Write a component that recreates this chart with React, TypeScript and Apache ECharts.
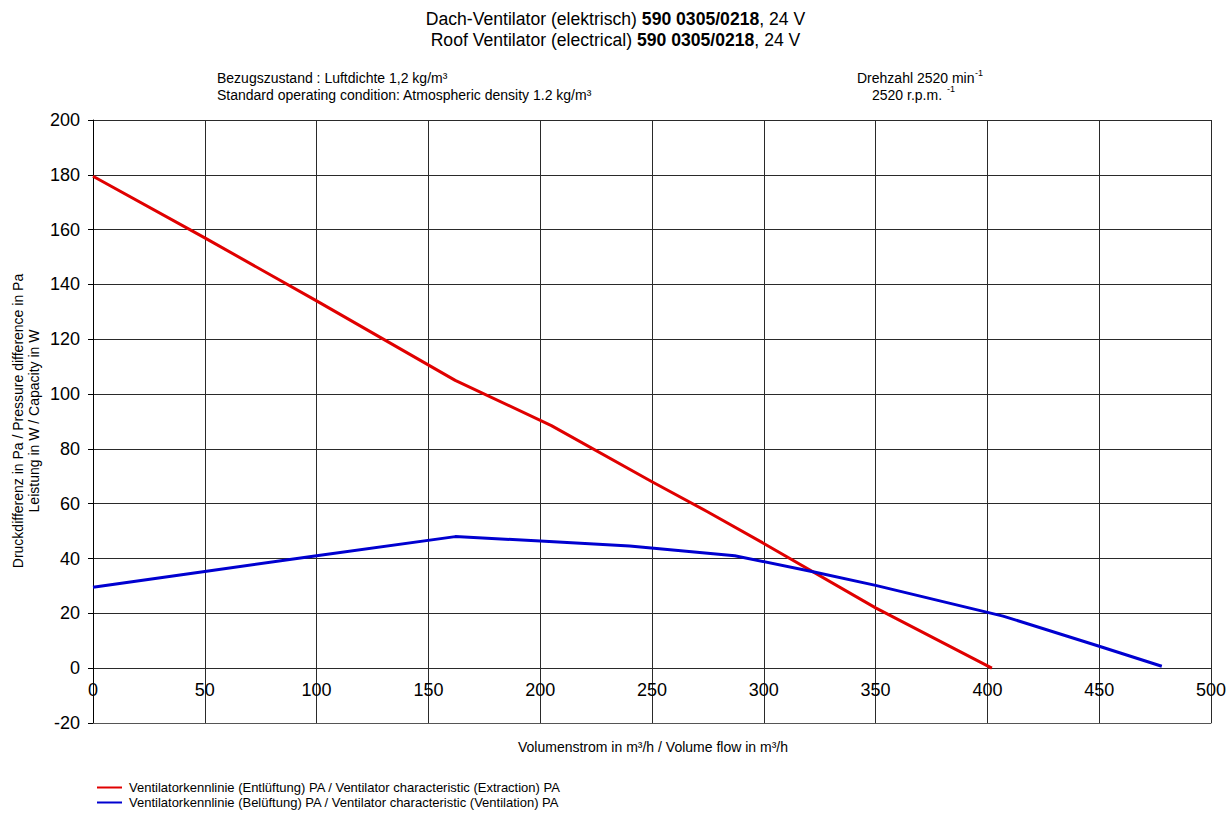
import React, { useEffect, useRef } from "react";
import * as echarts from "echarts";

const extractionX = [0, 50, 100, 162, 205, 250, 275, 300, 350, 402];
const extractionY = [179.5, 157, 134, 105, 88.5, 68, 57, 45.5, 22, 0];
const ventilationX = [0, 50, 100, 162, 200, 240, 287, 322, 350, 407, 450, 478];
const ventilationY = [29.5, 35.3, 41, 48, 46.4, 44.6, 41, 35.2, 30.2, 19, 8, 0.7];

const seriesNames = [
  "Ventilatorkennlinie (Entlüftung) PA / Ventilator characteristic (Extraction) PA",
  "Ventilatorkennlinie (Belüftung) PA / Ventilator characteristic (Ventilation) PA",
];

const FONT = "Liberation Sans, Arial, sans-serif";

export default function App() {
  const ref = useRef<HTMLDivElement>(null);
  useEffect(() => {
    const chart = echarts.init(ref.current!, undefined, { renderer: "svg" });
    const zip = (xs: number[], ys: number[]) => xs.map((x, i) => [x, ys[i]]);
    chart.setOption({
      animation: false,
      backgroundColor: "#ffffff",
      textStyle: { fontFamily: FONT },
      title: {
        left: "center",
        top: 8,
        padding: 0,
        text:
          "{n|Dach-Ventilator (elektrisch) }{b|590 0305/0218}{n|, 24 V}\n{n|Roof Ventilator (electrical) }{b|590 0305/0218}{n|, 24 V}",
        textStyle: {
          fontFamily: FONT,
          fontWeight: "normal",
          rich: {
            n: { fontSize: 17.6, fontFamily: FONT, color: "#000", fontWeight: "normal", lineHeight: 21 },
            b: { fontSize: 17.6, fontFamily: FONT, color: "#000", fontWeight: "bold", lineHeight: 21 },
          },
        },
      },
      grid: { left: 93, right: 20, top: 120, bottom: 93, containLabel: false },
      xAxis: {
        type: "value",
        min: 0,
        max: 500,
        interval: 50,
        axisLine: { show: true, onZero: false, lineStyle: { color: "#555", width: 1 } },
        axisTick: { show: false },
        axisLabel: { color: "#000", fontSize: 18, fontFamily: FONT, margin: -42 },
        splitLine: { show: true, lineStyle: { color: "#2a2a2a", width: 1 } },
      },
      yAxis: {
        type: "value",
        min: -20,
        max: 200,
        interval: 20,
        axisLine: { show: true, onZero: false, lineStyle: { color: "#000", width: 1 } },
        axisTick: { show: true, length: 5, lineStyle: { color: "#000" } },
        axisLabel: { color: "#000", fontSize: 18, fontFamily: FONT, margin: 13 },
        splitLine: { show: true, lineStyle: { color: "#2a2a2a", width: 1 } },
      },
      legend: {
        orient: "vertical",
        left: 97,
        top: 780,
        padding: 0,
        itemWidth: 25,
        itemHeight: 2,
        itemGap: 0,
        icon: "rect",
        textStyle: { fontSize: 13, fontFamily: FONT, color: "#000", lineHeight: 15, padding: [0, 0, 0, 2] },
        data: seriesNames,
      },
      series: [
        {
          name: seriesNames[0],
          type: "line",
          data: zip(extractionX, extractionY),
          showSymbol: false,
          symbol: "none",
          lineStyle: { color: "#e00000", width: 3 },
          itemStyle: { color: "#e00000" },
        },
        {
          name: seriesNames[1],
          type: "line",
          data: zip(ventilationX, ventilationY),
          showSymbol: false,
          symbol: "none",
          lineStyle: { color: "#0000d0", width: 3 },
          itemStyle: { color: "#0000d0" },
        },
      ],
      graphic: [
        {
          type: "text",
          x: 217,
          y: 78,
          style: {
            text: "Bezugszustand : Luftdichte 1,2 kg/m³",
            fontSize: 14,
            fontFamily: FONT,
            fill: "#000",
            verticalAlign: "middle",
          },
        },
        {
          type: "text",
          x: 217,
          y: 95,
          style: {
            text: "Standard operating condition: Atmospheric density 1.2 kg/m³",
            fontSize: 14,
            fontFamily: FONT,
            fill: "#000",
            verticalAlign: "middle",
          },
        },
        {
          type: "text",
          x: 857,
          y: 78,
          style: { text: "Drehzahl 2520 min", fontSize: 14, fontFamily: FONT, fill: "#000", verticalAlign: "middle" },
        },
        {
          type: "text",
          x: 975,
          y: 73,
          style: { text: "-1", fontSize: 9, fontFamily: FONT, fill: "#000", verticalAlign: "middle" },
        },
        {
          type: "text",
          x: 872,
          y: 95,
          style: { text: "2520 r.p.m.", fontSize: 14, fontFamily: FONT, fill: "#000", verticalAlign: "middle" },
        },
        {
          type: "text",
          x: 947,
          y: 89,
          style: { text: "-1", fontSize: 9, fontFamily: FONT, fill: "#000", verticalAlign: "middle" },
        },
        {
          type: "text",
          x: 26,
          y: 421,
          rotation: Math.PI / 2,
          style: {
            text: "Druckdifferenz in Pa / Pressure difference in Pa\nLeistung in W / Capacity in W",
            fontSize: 14,
            fontFamily: FONT,
            fill: "#000",
            align: "center",
            verticalAlign: "middle",
            lineHeight: 16.5,
          },
        },
        {
          type: "text",
          x: 653,
          y: 747,
          style: {
            text: "Volumenstrom in m³/h / Volume flow in m³/h",
            fontSize: 14,
            fontFamily: FONT,
            fill: "#000",
            align: "center",
            verticalAlign: "middle",
          },
        },
      ],
    });
    return () => chart.dispose();
  }, []);
  return <div ref={ref} style={{ width: 1231, height: 816, position: "absolute", left: 0, top: 0 }} />;
}
